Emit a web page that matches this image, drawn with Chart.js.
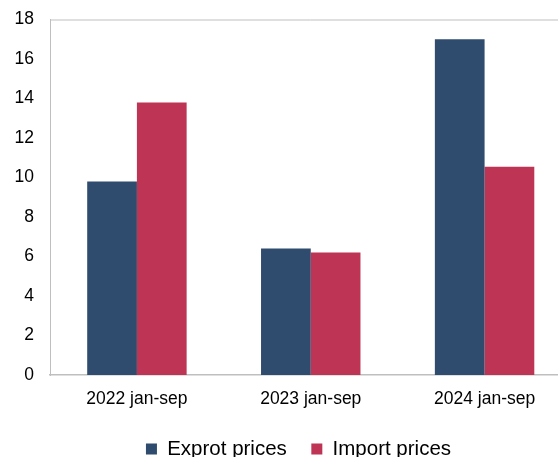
<!DOCTYPE html>
<html>
<head>
<meta charset="utf-8">
<script src="https://cdn.jsdelivr.net/npm/chart.js@4/dist/chart.umd.min.js"></script>
<style>
html,body{margin:0;padding:0;background:#fff;overflow:hidden;width:558px;height:457px;}
#wrap{position:absolute;left:0;top:0;width:600px;height:471px;}
</style>
</head>
<body>
<div id="wrap"><canvas id="c" width="600" height="471"></canvas></div>
<script>
const categories = ['2022 jan-sep', '2023 jan-sep', '2024 jan-sep'];
const exportPrices = [9.8, 6.4, 17.0];
const importPrices = [13.8, 6.2, 10.55];
const seriesNames = ['Exprot prices', 'Import prices'];
const yTicks = {min: 0, max: 18, step: 2};

const FONT = '"Liberation Sans", Arial, sans-serif';
const frameColor = '#bfbfbf';

const framePlugin = {
  id: 'frame',
  afterLayout(chart) {
    // centre the legend under the full original figure width
    const lg = chart.legend;
    if (lg) { lg.left += 12.75; lg.right += 12.75; }
  },
  afterDatasetsDraw(chart) {
    const {ctx, chartArea: a} = chart;
    ctx.save();
    ctx.strokeStyle = frameColor;
    ctx.lineWidth = 1;
    ctx.beginPath();
    ctx.moveTo(a.left, a.top + 0.5);
    ctx.lineTo(a.right, a.top + 0.5);
    ctx.lineTo(a.right, a.bottom);
    ctx.stroke();
    ctx.restore();
  }
};

new Chart(document.getElementById('c'), {
  type: 'bar',
  data: {
    labels: categories,
    datasets: [
      {label: seriesNames[0], data: exportPrices, backgroundColor: '#2f4b6e', categoryPercentage: 0.572, barPercentage: 1},
      {label: seriesNames[1], data: importPrices, backgroundColor: '#be3455', categoryPercentage: 0.572, barPercentage: 1}
    ]
  },
  options: {
    responsive: false,
    animation: false,
    devicePixelRatio: 1,
    layout: {padding: {left: 0, right: 28.5, top: 19.5, bottom: 1.75}},
    plugins: {
      legend: {
        position: 'bottom',
        labels: {
          boxWidth: 11, boxHeight: 11, padding: 24.5,
          color: '#000',
          font: {family: FONT, size: 20.5}
        }
      },
      tooltip: {enabled: false}
    },
    scales: {
      x: {
        grid: {display: false},
        border: {display: true, color: frameColor, width: 1.5},
        ticks: {color: '#000', font: {family: FONT, size: 17.5}, padding: 6, maxRotation: 0},
        afterFit(s) { s.height = 39.25; s.paddingLeft = 0; s.paddingRight = 0; }
      },
      y: {
        min: yTicks.min, max: yTicks.max,
        grid: {display: false},
        border: {display: true, color: frameColor, width: 1},
        ticks: {stepSize: yTicks.step, color: '#000', font: {family: FONT, size: 17.5}, padding: 8},
        afterFit(s) { s.width = 50; s.paddingTop = 0; s.paddingBottom = 0; }
      }
    }
  },
  plugins: [framePlugin]
});
</script>
</body>
</html>
